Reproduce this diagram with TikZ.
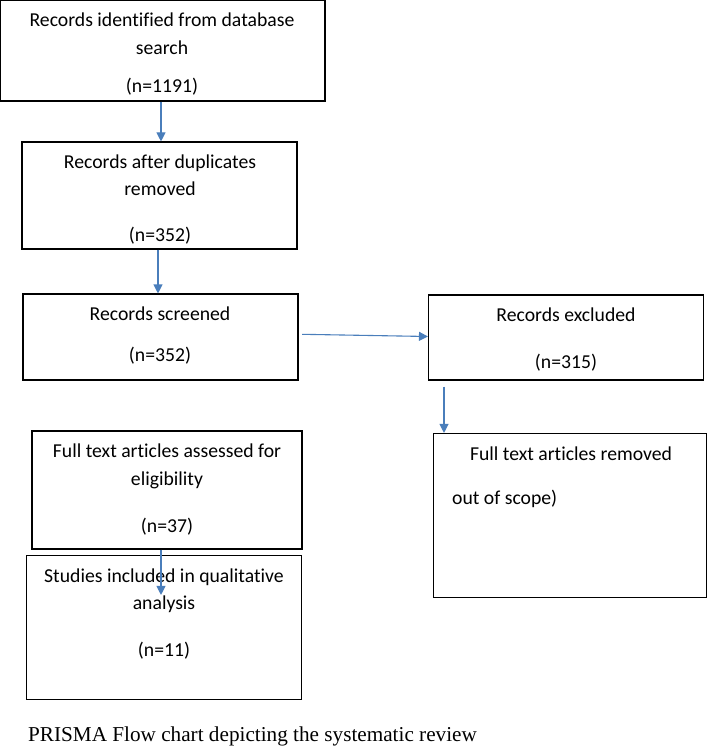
\documentclass[tikz,border=0pt]{standalone}
\usepackage{fontspec}
\setmainfont[Ligatures={NoCommon}]{Carlito}
\newfontfamily\capfont{Liberation Serif}
\usetikzlibrary{arrows.meta}
\definecolor{arrblue}{HTML}{4A7EBB}
\tikzset{
  box/.style={draw=black, line width=1.1pt, fill=white, inner sep=0pt},
  txt/.style={font=\fontsize{19.7}{23}\selectfont, inner sep=0pt, text height=17pt, text depth=4pt},
  arr/.style={draw=arrblue, line width=1.1pt, -{Triangle[length=9pt,width=9pt]}},
  captxt/.style={font=\capfont\fontsize{21.2}{24}\selectfont, inner sep=0pt, anchor=base west}
}
\begin{document}
\begin{tikzpicture}[x=1pt,y=-1pt]
\useasboundingbox (0,0) rectangle (709,749);
% boxes (centre + size)
\node[box, minimum width=325pt, minimum height=101pt] (b1) at (162.5,50.5) {};
\node[box, minimum width=275pt, minimum height=107pt] (b2) at (159.5,195.5) {};
\node[box, minimum width=275pt, minimum height=86pt] (b3) at (160.5,337) {};
\node[box, minimum width=275pt, minimum height=85pt] (b4) at (566,337.5) {};
\node[box, minimum width=273pt, minimum height=164pt] (b5) at (570,515.5) {};
\node[box, minimum width=270pt, minimum height=118pt] (b6) at (167,490) {};
\node[box, minimum width=275pt, minimum height=144pt] (b7) at (164,627.5) {};
% texts
\node[txt] (t1a) at (162,20) {Records identified from database};
\node[txt] (t1b) at (162,48) {search};
\node[txt] (t1c) at (162,86) {(n=1191)};
\node[txt] (t2a) at (160,162) {Records after duplicates};
\node[txt] (t2b) at (160,189) {removed};
\node[txt] (t2c) at (160,235) {(n=352)};
\node[txt] (t3a) at (160,314) {Records screened};
\node[txt] (t3b) at (160,355) {(n=352)};
\node[txt] (t4a) at (566,315) {Records excluded};
\node[txt] (t4b) at (566,362) {(n=315)};
\node[txt] (t5a) at (571,454) {Full text articles removed};
\node[txt, anchor=west] (t5b) at (452,498) {out of scope)};
\node[txt] (t6a) at (167,451) {Full text articles assessed for};
\node[txt] (t6b) at (167,479) {eligibility};
\node[txt] (t6c) at (167,526) {(n=37)};
\node[txt] (t7a) at (164,576) {Studies included in qualitative};
\node[txt] (t7b) at (164,603) {analysis};
\node[txt] (t7c) at (164,650) {(n=11)};
\node[captxt] (caption) at (28,741) {PRISMA Flow chart depicting the systematic review};
% arrows
\draw[arr] ([xshift=-1.5pt]b1.south) -- ([xshift=1.5pt]b2.north);
\draw[arr] ([xshift=-1.5pt]b2.south) -- ([xshift=-2.5pt]b3.north);
\draw[arr] ([xshift=3.5pt,yshift=2.7pt]b3.east) -- ([yshift=1pt]b4.west);
\draw[arr] ([xshift=-122pt,yshift=-6pt]b4.south) -- ([xshift=-126pt]b5.north);
\draw[arr] ([xshift=-6pt]b6.south) -- ([xshift=-3pt,yshift=-40pt]b7.north);
\end{tikzpicture}
\end{document}
